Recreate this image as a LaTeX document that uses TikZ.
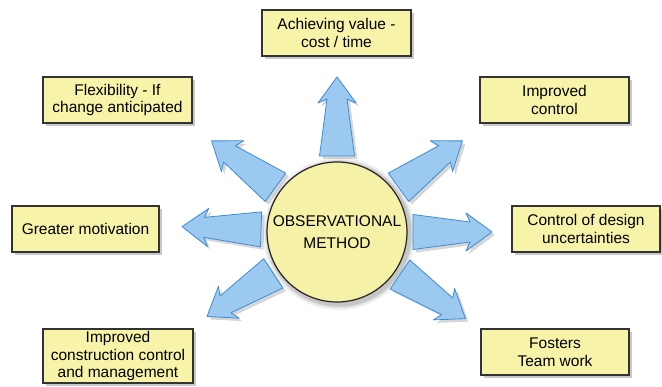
\documentclass[tikz,border=0pt]{standalone}
\usepackage{fontspec}
\setmainfont{Liberation Sans}
\usetikzlibrary{shadows}
\definecolor{boxfill}{RGB}{247,243,168}
\definecolor{circfill}{RGB}{245,241,166}
\definecolor{arrfill}{RGB}{155,201,240}
\definecolor{arredge}{RGB}{60,140,215}
\tikzset{
  infobox/.style={draw=black!80, line width=1.1pt, fill=boxfill, align=center,
    font=\fontsize{15.5}{17.5}\selectfont, inner sep=0pt,
    minimum width=149pt, minimum height=46pt,
    drop shadow={shadow xshift=3pt, shadow yshift=-3pt, opacity=0.35, fill=black!60}},
  radarrow/.style={fill=arrfill, draw=arredge, line width=0.8pt, line join=round},
  arrshadow/.style={fill=black, opacity=0.16},
}
\newcommand\rayarrow[1]{%
  \begin{scope}[shift={(340,235)}, rotate=#1]
    \fill[arrshadow] (76,-17.5) -- (133,-10) -- (129,-19) -- (155,0) -- (129,19) -- (133,10) -- (76,17.5) -- cycle;
  \end{scope}
  \begin{scope}[shift={(337,232)}, rotate=#1]
    \path[radarrow] (76,-17.5) -- (133,-10) -- (129,-19) -- (155,0) -- (129,19) -- (133,10) -- (76,17.5) -- cycle;
  \end{scope}}
\begin{document}
\begin{tikzpicture}[x=1pt,y=-1pt]
  \useasboundingbox (0,0) rectangle (662,387);
  \fill[white] (0,0) rectangle (662,387);
  % boxes
  \node[infobox] (value) at (336.5,33) {Achieving value -\\cost / time};
  \node[infobox] (ctrl) at (554.5,100) {Improved\\control};
  \node[infobox] (flex) at (117.5,100) {Flexibility - If\\change anticipated};
  \node[infobox, minimum width=147pt] (motiv) at (85.5,229) {Greater motivation};
  \node[infobox, minimum width=148pt] (design) at (586,229) {Control of design\\uncertainties};
  \node[infobox, minimum width=148pt] (team) at (555,352) {Fosters\\Team work};
  \node[infobox, minimum width=150pt, minimum height=54pt] (constr) at (118,356) {Improved\\construction control\\and management};
  % halo of circle
  \fill[black, opacity=0.06] (339,234) circle (76);
  \fill[black, opacity=0.08] (339,234) circle (74);
  \fill[black, opacity=0.10] (339,234) circle (72.5);
  % arrows
  \rayarrow{90}
  \rayarrow{36}
  \rayarrow{0}
  \rayarrow{-34}
  \rayarrow{-147}
  \rayarrow{178}
  \rayarrow{144}
  % centre
  \node[circle, draw=black!85, line width=1.2pt, fill=circfill, minimum size=140pt,
    inner sep=0pt, align=center, font=\fontsize{15.5}{22}\selectfont] (om) at (337,232)
    {OBSERVATIONAL\\METHOD};
\end{tikzpicture}
\end{document}
